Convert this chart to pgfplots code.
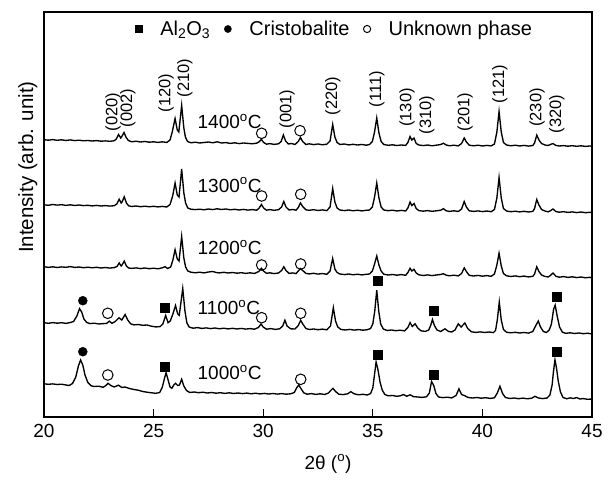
\documentclass[border=0pt]{standalone}
\usepackage{fontspec}
\setmainfont{Liberation Sans}
\usepackage{pgfplots}
\usepackage{pgfplotstable}
\pgfplotsset{compat=1.18}

% intensity relative to each pattern's left baseline (pattern is shifted in the plot)
\pgfplotstableread[row sep=\\]{t I\\
20.0 0.3\\ 20.2 -0.2\\ 20.4 0.4\\ 20.6 -0.3\\ 20.8 0.2\\ 21.0 -0.5\\ 21.2 0.1\\ 21.4 -0.6\\ 21.6 -0.2\\ 21.8 -0.8\\
22.0 -0.5\\ 22.2 -1.0\\ 22.4 -0.6\\ 22.6 -1.2\\ 22.8 -0.9\\ 23.0 -1.3\\ 23.2 -0.8\\ 23.3 1.0\\ 23.4 5.5\\ 23.5 2.0\\
23.55 3.5\\ 23.65 7.5\\ 23.75 2.5\\ 23.85 -0.5\\ 24.0 -1.8\\ 24.2 -1.2\\ 24.4 -2.0\\ 24.6 -1.5\\ 24.8 -2.2\\ 25.0 -1.8\\
25.2 -2.4\\ 25.4 -1.8\\ 25.6 -2.5\\ 25.75 0\\ 25.85 8\\ 25.98 21.5\\ 26.08 10\\ 26.15 8\\ 26.28 34.5\\ 26.38 12\\
26.45 3\\ 26.55 -1.5\\ 26.7 -2.8\\ 26.9 -2.2\\ 27.1 -3.0\\ 27.3 -2.5\\ 27.5 -2.0\\ 27.7 -2.8\\ 27.9 -1.8\\ 28.1 -3.0\\
28.3 -2.6\\ 28.5 -3.4\\ 28.7 -2.8\\ 28.9 -3.6\\ 29.1 -3.0\\ 29.3 -3.4\\ 29.5 -3.8\\ 29.7 -3.2\\ 29.8 -2.0\\ 29.92 0.5\\
30.02 -2.5\\ 30.15 -4.2\\ 30.3 -3.6\\ 30.5 -4.4\\ 30.7 -3.8\\ 30.82 -1.5\\ 30.92 5.0\\ 31.02 -1.0\\ 31.15 -4.0\\ 31.3 -3.5\\
31.45 -4.5\\ 31.6 -1.5\\ 31.7 2.5\\ 31.8 -1.5\\ 31.95 -4.5\\ 32.1 -3.8\\ 32.3 -4.6\\ 32.5 -4.0\\ 32.7 -4.8\\ 32.9 -4.2\\
33.05 -1.0\\ 33.17 15.5\\ 33.27 3\\ 33.37 -2.5\\ 33.5 -4.5\\ 33.7 -4.0\\ 33.9 -4.9\\ 34.1 -4.3\\ 34.3 -5.0\\ 34.5 -4.5\\
34.7 -5.2\\ 34.85 -4.5\\ 34.98 -1.5\\ 35.08 8\\ 35.18 22\\ 35.28 7\\ 35.38 -1.5\\ 35.5 -4.5\\ 35.7 -5.3\\ 35.9 -4.8\\
36.1 -5.5\\ 36.3 -5.0\\ 36.5 -5.4\\ 36.6 -2.5\\ 36.7 3.5\\ 36.78 0\\ 36.88 2\\ 36.98 -3.5\\ 37.1 -5.0\\ 37.3 -5.6\\
37.5 -5.0\\ 37.7 -5.8\\ 37.9 -5.2\\ 38.1 -4.5\\ 38.22 -3.2\\ 38.35 -5.0\\ 38.5 -5.8\\ 38.7 -5.2\\ 38.9 -5.9\\ 39.05 -3.5\\
39.17 2.0\\ 39.27 -2.0\\ 39.4 -5.2\\ 39.6 -5.8\\ 39.8 -5.2\\ 40.0 -6.0\\ 40.2 -5.4\\ 40.4 -5.9\\ 40.55 -4.0\\ 40.66 8\\
40.76 28.5\\ 40.86 8\\ 40.96 -2.5\\ 41.1 -5.0\\ 41.3 -5.8\\ 41.5 -5.2\\ 41.7 -6.0\\ 41.9 -5.4\\ 42.1 -6.1\\ 42.3 -5.5\\
42.38 -3\\ 42.48 4.8\\ 42.58 0\\ 42.7 -3.5\\ 42.85 -5.0\\ 43.0 -5.5\\ 43.1 -4.5\\ 43.22 -3.6\\ 43.35 -5.4\\ 43.5 -6.0\\
43.7 -5.6\\ 43.9 -6.2\\ 44.1 -5.7\\ 44.3 -6.3\\ 44.5 -5.8\\ 44.7 -6.4\\ 44.9 -6.0\\ 45.0 -6.2\\
}\tA

\pgfplotstableread[row sep=\\]{t I\\
20.0 0.2\\ 20.2 -0.3\\ 20.4 0.5\\ 20.6 -0.1\\ 20.8 0.3\\ 21.0 -0.4\\ 21.2 0.2\\ 21.4 -0.5\\ 21.6 0.0\\ 21.8 -0.6\\
22.0 -0.3\\ 22.2 -0.9\\ 22.4 -0.4\\ 22.6 -1.0\\ 22.8 -0.6\\ 23.0 -1.1\\ 23.2 -0.7\\ 23.32 1.0\\ 23.43 5.8\\ 23.52 2.0\\
23.56 3.0\\ 23.66 8.2\\ 23.76 2.0\\ 23.86 -0.8\\ 24.0 -1.5\\ 24.2 -1.0\\ 24.4 -1.7\\ 24.6 -1.2\\ 24.8 -1.8\\ 25.0 -1.3\\
25.2 -1.9\\ 25.4 -1.4\\ 25.6 -2.0\\ 25.75 0.5\\ 25.87 9\\ 25.98 22\\ 26.08 10\\ 26.16 8\\ 26.28 36\\ 26.38 12\\
26.46 2\\ 26.56 -3\\ 26.7 -4.2\\ 26.9 -4.6\\ 27.1 -4.2\\ 27.3 -4.8\\ 27.5 -4.0\\ 27.7 -4.6\\ 27.9 -3.8\\ 28.1 -4.5\\
28.3 -4.0\\ 28.5 -4.8\\ 28.7 -4.3\\ 28.9 -5.0\\ 29.1 -4.4\\ 29.3 -5.1\\ 29.5 -4.6\\ 29.7 -5.2\\ 29.8 -3.5\\ 29.92 0.5\\
30.02 -3.0\\ 30.15 -5.2\\ 30.3 -4.6\\ 30.5 -5.3\\ 30.7 -4.7\\ 30.84 -2\\ 30.94 3.5\\ 31.04 -2\\ 31.18 -5.0\\ 31.35 -4.5\\
31.5 -5.2\\ 31.6 -2.5\\ 31.7 2.0\\ 31.8 -1.5\\ 31.95 -4.8\\ 32.1 -5.3\\ 32.3 -4.7\\ 32.5 -5.5\\ 32.7 -4.9\\ 32.9 -5.6\\
33.05 -2\\ 33.17 16.5\\ 33.27 3\\ 33.37 -3\\ 33.5 -5.0\\ 33.7 -5.6\\ 33.9 -5.0\\ 34.1 -5.8\\ 34.3 -5.2\\ 34.5 -5.9\\
34.7 -5.3\\ 34.85 -5.0\\ 34.98 -2\\ 35.08 8\\ 35.18 22\\ 35.28 7\\ 35.38 -2\\ 35.5 -5.0\\ 35.7 -5.7\\ 35.9 -5.2\\
36.1 -6.0\\ 36.3 -5.4\\ 36.5 -6.0\\ 36.6 -3\\ 36.7 3.0\\ 36.78 -0.5\\ 36.88 1.5\\ 36.98 -3.5\\ 37.1 -5.6\\ 37.3 -6.2\\
37.5 -5.6\\ 37.7 -6.3\\ 37.9 -5.8\\ 38.1 -5.2\\ 38.22 -3.7\\ 38.35 -5.8\\ 38.5 -6.4\\ 38.7 -5.8\\ 38.9 -6.5\\ 39.05 -4.0\\
39.17 3.5\\ 39.27 -2.0\\ 39.4 -5.8\\ 39.6 -6.4\\ 39.8 -5.9\\ 40.0 -6.6\\ 40.2 -6.0\\ 40.4 -6.7\\ 40.55 -4.5\\ 40.66 7\\
40.76 27.5\\ 40.86 7\\ 40.96 -3.5\\ 41.1 -6.0\\ 41.3 -6.7\\ 41.5 -6.2\\ 41.7 -6.9\\ 41.9 -6.3\\ 42.1 -7.0\\ 42.3 -6.4\\
42.38 -3.5\\ 42.48 5.5\\ 42.58 0\\ 42.7 -4.5\\ 42.85 -6.0\\ 43.0 -6.8\\ 43.1 -5.8\\ 43.22 -4.0\\ 43.35 -6.5\\ 43.5 -7.2\\
43.7 -6.7\\ 43.9 -7.4\\ 44.1 -6.9\\ 44.3 -7.6\\ 44.5 -7.0\\ 44.7 -7.7\\ 44.9 -7.3\\ 45.0 -7.5\\
}\tB

\pgfplotstableread[row sep=\\]{t I\\
20.0 0.3\\ 20.2 -0.4\\ 20.4 0.2\\ 20.6 -0.5\\ 20.8 0.1\\ 21.0 -0.3\\ 21.2 0.4\\ 21.4 -0.4\\ 21.6 0.0\\ 21.8 -0.7\\
22.0 -0.2\\ 22.2 -0.8\\ 22.4 -0.3\\ 22.6 -1.0\\ 22.8 -0.5\\ 23.0 -1.1\\ 23.2 -0.6\\ 23.33 0.5\\ 23.43 4.0\\ 23.52 1.0\\
23.56 2.0\\ 23.66 5.8\\ 23.76 1.0\\ 23.86 -1.0\\ 24.0 -1.4\\ 24.2 -0.9\\ 24.4 -1.6\\ 24.6 -1.0\\ 24.8 -1.7\\ 25.0 -1.2\\
25.2 -1.8\\ 25.4 -0.8\\ 25.52 0.3\\ 25.64 -1.5\\ 25.78 0\\ 25.88 7\\ 25.98 17.3\\ 26.08 8\\ 26.16 6\\ 26.28 30.5\\
26.38 9\\ 26.46 0\\ 26.56 -4\\ 26.7 -5.2\\ 26.9 -5.8\\ 27.1 -5.2\\ 27.3 -5.9\\ 27.5 -5.0\\ 27.7 -4.5\\ 27.85 -5.5\\
28.0 -5.9\\ 28.2 -5.3\\ 28.4 -6.0\\ 28.6 -5.5\\ 28.8 -6.2\\ 29.0 -5.7\\ 29.2 -6.4\\ 29.4 -5.8\\ 29.6 -6.5\\ 29.8 -4.5\\
29.92 -1.3\\ 30.02 -4.2\\ 30.15 -6.3\\ 30.3 -5.8\\ 30.5 -6.6\\ 30.7 -6.0\\ 30.84 -3.5\\ 30.94 0.2\\ 31.04 -3.5\\ 31.18 -6.4\\
31.35 -5.9\\ 31.5 -6.6\\ 31.6 -4\\ 31.7 -1.6\\ 31.8 -3.5\\ 31.95 -6.4\\ 32.1 -6.9\\ 32.3 -6.3\\ 32.5 -7.1\\ 32.7 -6.5\\
32.9 -7.3\\ 33.05 -4\\ 33.17 8.5\\ 33.27 -2\\ 33.37 -5.5\\ 33.5 -7.0\\ 33.7 -7.6\\ 33.9 -7.0\\ 34.1 -7.8\\ 34.3 -7.2\\
34.5 -7.9\\ 34.7 -7.3\\ 34.85 -7.0\\ 34.98 -4\\ 35.08 3\\ 35.18 11.0\\ 35.28 2\\ 35.38 -4\\ 35.5 -7.2\\ 35.7 -8.0\\
35.9 -7.5\\ 36.1 -8.2\\ 36.3 -7.6\\ 36.5 -8.3\\ 36.6 -5.5\\ 36.7 -1.3\\ 36.78 -4\\ 36.88 -2.3\\ 36.98 -6\\ 37.1 -7.8\\
37.3 -8.5\\ 37.5 -7.9\\ 37.7 -8.6\\ 37.9 -8.0\\ 38.1 -7.5\\ 38.22 -6.7\\ 38.35 -8.2\\ 38.5 -8.8\\ 38.7 -8.2\\ 38.9 -8.9\\
39.05 -6.5\\ 39.17 -0.9\\ 39.27 -4.5\\ 39.4 -8.3\\ 39.6 -9.0\\ 39.8 -8.4\\ 40.0 -9.2\\ 40.2 -8.6\\ 40.4 -9.3\\ 40.55 -7\\
40.66 2\\ 40.76 13.8\\ 40.86 1\\ 40.96 -6.5\\ 41.1 -8.8\\ 41.3 -9.5\\ 41.5 -8.9\\ 41.7 -9.7\\ 41.9 -9.1\\ 42.1 -9.9\\
42.3 -9.3\\ 42.38 -7\\ 42.48 0.2\\ 42.58 -4.5\\ 42.7 -8.0\\ 42.85 -9.4\\ 43.0 -10.0\\ 43.1 -8.5\\ 43.22 -6.0\\ 43.35 -9.2\\
43.5 -10.2\\ 43.7 -9.6\\ 43.9 -10.4\\ 44.1 -9.8\\ 44.3 -10.6\\ 44.5 -10.0\\ 44.7 -10.8\\ 44.9 -10.3\\ 45.0 -10.8\\
}\tC

\pgfplotstableread[row sep=\\]{t I\\
20.0 0.3\\ 20.2 -0.3\\ 20.4 0.4\\ 20.6 -0.2\\ 20.8 0.3\\ 21.0 -0.4\\ 21.2 0.5\\ 21.35 1.5\\ 21.5 7\\ 21.62 14.3\\
21.72 11\\ 21.82 4\\ 21.95 0.5\\ 22.1 -0.6\\ 22.3 -0.2\\ 22.5 -1.0\\ 22.7 -0.6\\ 22.85 -0.5\\ 22.98 1.8\\ 23.1 -0.3\\
23.25 1.5\\ 23.42 5.2\\ 23.55 3.0\\ 23.7 8.5\\ 23.82 3\\ 23.95 -0.8\\ 24.1 -1.9\\ 24.3 -1.5\\ 24.5 -2.3\\ 24.7 -2.0\\
24.9 -3.2\\ 25.1 -3.9\\ 25.3 -3.6\\ 25.42 -1\\ 25.55 7.5\\ 25.66 0.3\\ 25.76 2\\ 25.88 9\\ 26.0 17.5\\ 26.1 9\\
26.17 7.7\\ 26.33 34.5\\ 26.43 12\\ 26.52 0\\ 26.62 -4.0\\ 26.8 -5.2\\ 27.0 -4.6\\ 27.2 -5.4\\ 27.4 -4.9\\ 27.6 -5.6\\
27.8 -5.0\\ 28.0 -5.8\\ 28.2 -5.2\\ 28.4 -5.9\\ 28.6 -5.3\\ 28.8 -6.0\\ 29.0 -5.4\\ 29.2 -6.1\\ 29.4 -5.6\\ 29.6 -6.2\\
29.78 -4.5\\ 29.9 -1.0\\ 30.0 -4.0\\ 30.15 -6.2\\ 30.35 -5.6\\ 30.55 -6.4\\ 30.75 -5.8\\ 30.89 -3\\ 30.99 2.8\\ 31.09 -3\\
31.25 -5.8\\ 31.45 -6.0\\ 31.6 -2.5\\ 31.71 2.6\\ 31.82 -1.5\\ 31.95 -5.5\\ 32.1 -6.5\\ 32.3 -6.0\\ 32.5 -6.7\\ 32.7 -6.1\\
32.9 -6.8\\ 33.07 -3\\ 33.2 15.3\\ 33.3 2\\ 33.4 -4\\ 33.55 -6.5\\ 33.75 -7.0\\ 33.95 -6.4\\ 34.15 -7.1\\ 34.35 -6.6\\
34.55 -7.2\\ 34.75 -6.7\\ 34.9 -5.5\\ 35.0 -1\\ 35.09 12\\ 35.18 32.8\\ 35.27 12\\ 35.36 -1\\ 35.48 -6.0\\ 35.65 -7.5\\
35.85 -7.0\\ 36.05 -7.7\\ 36.25 -7.2\\ 36.45 -7.9\\ 36.6 -4.5\\ 36.7 0.4\\ 36.8 -3.5\\ 36.93 -0.8\\ 37.05 -5\\ 37.2 -7.8\\
37.4 -8.4\\ 37.55 -7.0\\ 37.64 -2.5\\ 37.72 3.5\\ 37.81 -2.5\\ 37.93 -7.0\\ 38.1 -8.5\\ 38.29 -5.8\\ 38.45 -8.4\\ 38.6 -9.0\\
38.75 -7.0\\ 38.9 -0.8\\ 39.03 -4.0\\ 39.2 0.0\\ 39.33 -5.5\\ 39.5 -8.8\\ 39.7 -9.4\\ 39.9 -8.9\\ 40.1 -9.5\\ 40.3 -9.0\\
40.5 -9.6\\ 40.6 -7.5\\ 40.68 3\\ 40.77 21\\ 40.86 3\\ 40.96 -6.5\\ 41.1 -9.2\\ 41.3 -9.8\\ 41.5 -9.3\\ 41.7 -10.0\\
41.9 -9.5\\ 42.1 -10.1\\ 42.3 -8.5\\ 42.45 -2.0\\ 42.55 2.0\\ 42.65 -4\\ 42.78 -8.5\\ 42.92 -9.5\\ 43.05 -7.0\\ 43.15 -1\\
43.25 14\\ 43.32 17.8\\ 43.42 6\\ 43.52 -4\\ 43.65 -9.2\\ 43.8 -10.3\\ 44.0 -9.8\\ 44.2 -10.5\\ 44.4 -10.0\\ 44.6 -10.7\\
44.8 -10.2\\ 45.0 -11.0\\
}\tD

\pgfplotstableread[row sep=\\]{t I\\
20.0 0.2\\ 20.2 -0.3\\ 20.4 0.1\\ 20.6 -0.5\\ 20.8 -0.2\\ 21.0 -1.0\\ 21.15 -1.5\\ 21.3 0.5\\ 21.45 7\\ 21.57 18\\
21.67 24\\ 21.77 19\\ 21.87 9\\ 22.0 1.5\\ 22.15 -1.8\\ 22.3 -2.5\\ 22.5 -2.2\\ 22.7 -3.3\\ 22.82 -1.5\\ 22.92 0.7\\
23.05 -1.5\\ 23.2 -3.0\\ 23.4 -1.2\\ 23.55 -3.5\\ 23.7 -3.0\\ 23.9 -4.5\\ 24.1 -5.5\\ 24.3 -6.2\\ 24.5 -7.5\\ 24.7 -8.2\\
24.9 -8.8\\ 25.1 -9.3\\ 25.28 -8.5\\ 25.4 -3\\ 25.5 6\\ 25.57 11.3\\ 25.65 5\\ 25.75 -3\\ 25.83 -4.3\\ 25.92 -1\\
26.0 0.7\\ 26.1 -1.5\\ 26.18 -1.0\\ 26.28 4.7\\ 26.38 -2\\ 26.5 -6.5\\ 26.65 -8.5\\ 26.85 -8.0\\ 27.05 -8.7\\ 27.25 -8.2\\
27.45 -9.0\\ 27.65 -8.5\\ 27.85 -9.2\\ 28.05 -8.7\\ 28.25 -9.4\\ 28.45 -8.8\\ 28.65 -9.5\\ 28.85 -9.0\\ 29.05 -9.6\\ 29.25 -9.1\\
29.45 -9.8\\ 29.65 -9.2\\ 29.85 -9.9\\ 30.05 -9.4\\ 30.25 -10.0\\ 30.45 -9.5\\ 30.65 -10.1\\ 30.85 -9.6\\ 31.05 -10.2\\ 31.25 -9.8\\
31.42 -8.5\\ 31.52 -4\\ 31.62 -1.0\\ 31.72 -4.5\\ 31.85 -8.8\\ 32.0 -10.2\\ 32.2 -9.6\\ 32.4 -10.4\\ 32.6 -9.8\\ 32.8 -10.5\\
32.98 -9.0\\ 33.08 -6.5\\ 33.18 -4.3\\ 33.3 -7.5\\ 33.45 -10.2\\ 33.65 -10.6\\ 33.85 -9.8\\ 34.0 -7.7\\ 34.15 -9.8\\ 34.35 -10.8\\
34.55 -10.3\\ 34.75 -11.0\\ 34.9 -9.5\\ 35.0 -4\\ 35.07 8\\ 35.15 22\\ 35.23 15\\ 35.33 2\\ 35.43 -6\\ 35.55 -10.5\\
35.7 -11.8\\ 35.9 -11.5\\ 36.1 -12.3\\ 36.25 -11.8\\ 36.4 -10.5\\ 36.55 -12.3\\ 36.7 -10.8\\ 36.85 -12.6\\ 37.05 -13.0\\ 37.25 -13.4\\
37.45 -12.8\\ 37.58 -9\\ 37.68 2.4\\ 37.78 -1.5\\ 37.88 -9.5\\ 38.0 -13.0\\ 38.2 -13.6\\ 38.4 -13.2\\ 38.6 -13.9\\ 38.8 -11.5\\
38.93 -4.8\\ 39.05 -10.5\\ 39.2 -11.8\\ 39.35 -13.5\\ 39.55 -14.0\\ 39.75 -13.5\\ 39.95 -14.2\\ 40.15 -13.7\\ 40.35 -14.4\\ 40.55 -13.8\\
40.68 -9\\ 40.8 -2.3\\ 40.92 -9.5\\ 41.05 -13.5\\ 41.25 -14.5\\ 41.45 -14.0\\ 41.65 -14.7\\ 41.85 -14.1\\ 42.05 -14.8\\ 42.25 -14.2\\
42.4 -12.3\\ 42.55 -14.0\\ 42.75 -14.6\\ 42.95 -14.0\\ 43.08 -11\\ 43.18 -1\\ 43.24 12\\ 43.31 24.2\\ 43.38 16\\ 43.46 3\\
43.56 -8\\ 43.68 -13.5\\ 43.85 -14.8\\ 44.0 -13.8\\ 44.15 -14.5\\ 44.3 -13.6\\ 44.45 -15.0\\ 44.6 -14.6\\ 44.8 -15.3\\ 45.0 -15.0\\
}\tE

\pgfplotsset{
  lgmark/.style={legend image code/.code={\draw[##1,mark size=3.6bp] plot coordinates {(0bp,0bp)};}},
  xrd/.style={black, line width=1.35bp, forget plot},
}

\begin{document}
\begin{tikzpicture}[font=\fontsize{19bp}{22bp}\selectfont]
\begin{axis}[
  scale only axis,
  width=548bp, height=405bp,
  xmin=20, xmax=45, ymin=0, ymax=405,
  xtick={20,25,30,35,40,45},
  ytick=\empty,
  tick pos=left,
  tick align=inside,
  major tick length=8bp,
  tick style={black, line width=1.1bp},
  axis line style={line width=1.3bp},
  /pgf/number format/assume math mode=true,
  xticklabel style={yshift=-4bp},
  xlabel={2θ (\textsuperscript{o})},
  xlabel style={at={(axis description cs:0.5,0)}, anchor=north, yshift=-34bp, xshift=10bp},
  ylabel={Intensity (arb. unit)},
  ylabel style={at={(axis description cs:0,0.617)}, anchor=south, yshift=3bp,
    font=\fontsize{20.5bp}{23bp}\selectfont},
  legend columns=-1,
  legend style={draw=none, fill=none, inner sep=0pt,
    font=\fontsize{20bp}{23bp}\selectfont,
    at={(axis description cs:0.166,0.958)}, anchor=west,
    /tikz/every odd column/.append style={column sep=16bp},
    /tikz/every even column/.append style={column sep=12bp}},
]
\addplot[xrd] table[x=t, y expr=\thisrow{I}+277] {\tA};
\addplot[xrd] table[x=t, y expr=\thisrow{I}+212] {\tB};
\addplot[xrd] table[x=t, y expr=\thisrow{I}+150] {\tC};
\addplot[xrd] table[x=t, y expr=\thisrow{I}+94] {\tD};
\addplot[xrd] table[x=t, y expr=\thisrow{I}+33] {\tE};

% Al2O3
\addplot[only marks, mark=square*, mark size=4.4bp, black, lgmark]
  coordinates {(25.52,109.3)(35.21,136)(37.78,106)(43.39,120.3)
               (25.52,50.3)(35.21,62.7)(37.78,42.7)(43.39,65.3)};
\addlegendentry{Al\textsubscript{2}O\textsubscript{3}}
% cristobalite
\addplot[only marks, mark=*, mark size=4.5bp, black, lgmark]
  coordinates {(21.77,116.3)(21.77,65.3)};
\addlegendentry{Cristobalite}
% unknown phase
\addplot[only marks, mark=o, mark size=5.3bp, black, mark options={line width=1bp}, lgmark]
  coordinates {(29.93,283.7)(31.68,286.3)(29.93,221)(31.71,222.7)(29.93,152)(31.71,153)
               (22.91,103.7)(29.93,99.3)(31.71,103.7)(22.91,42)(31.71,37.7)};
\addlegendentry{Unknown phase}

% temperatures
\node[anchor=west, inner sep=0pt] at (axis cs:27.0,295.3) {1400\textsuperscript{o}C};
\node[anchor=west, inner sep=0pt] at (axis cs:27.0,232) {1300\textsuperscript{o}C};
\node[anchor=west, inner sep=0pt] at (axis cs:27.0,169.3) {1200\textsuperscript{o}C};
\node[anchor=west, inner sep=0pt] at (axis cs:27.0,109.7) {1100\textsuperscript{o}C};
\node[anchor=west, inner sep=0pt] at (axis cs:27.0,44.5) {1000\textsuperscript{o}C};

% mullite reflections
\begin{scope}[every node/.style={rotate=90, inner sep=0pt, font=\fontsize{16.5bp}{19bp}\selectfont}]
\node at (axis cs:23.15,305) {(020)};
\node at (axis cs:23.83,309) {(002)};
\node at (axis cs:25.57,324) {(120)};
\node at (axis cs:26.43,339) {(210)};
\node at (axis cs:31.09,308) {(001)};
\node at (axis cs:33.18,321) {(220)};
\node at (axis cs:35.19,328) {(111)};
\node at (axis cs:36.56,309.5) {(130)};
\node at (axis cs:37.47,302) {(310)};
\node at (axis cs:39.21,305) {(201)};
\node at (axis cs:40.80,333) {(121)};
\node at (axis cs:42.49,309.5) {(230)};
\node at (axis cs:43.40,303) {(320)};
\end{scope}
\end{axis}
\pgfresetboundingbox
\path[use as bounding box] ([shift={(-44bp,-63bp)}]current axis.south west) rectangle ([shift={(18bp,12bp)}]current axis.north east);
\end{tikzpicture}
\end{document}
